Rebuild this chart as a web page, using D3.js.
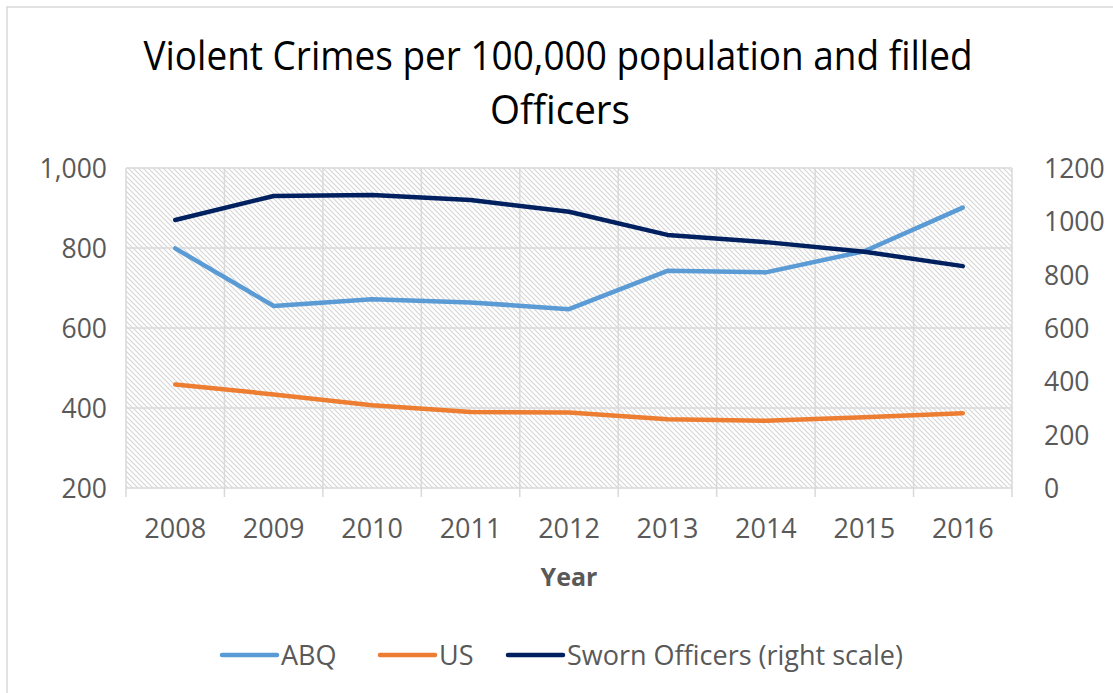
<!DOCTYPE html>
<html>
<head>
<meta charset="utf-8">
<script src="https://cdn.jsdelivr.net/npm/d3@7"></script>
<style>
  body { margin: 0; background: #fff; }
  text { font-family: "Open Sans", "Noto Sans", sans-serif; }
</style>
</head>
<body>
<div id="chart"></div>
<script>
// chart data
const years = ["2008", "2009", "2010", "2011", "2012", "2013", "2014", "2015", "2016"];
const abq = [799, 655, 672, 664, 647, 743, 739, 792, 901];
const us = [459, 434, 407, 390, 389, 372, 368, 377, 387];
const officers = [1005, 1095, 1099, 1080, 1036, 949, 922, 886, 832];
const leftTicks = [200, 400, 600, 800, 1000];
const rightTicks = [0, 200, 400, 600, 800, 1000, 1200];

const width = 1113;
const height = 693;
const margin = {left: 126, right: 101, top: 168, bottom: 205};

const svg = d3.select("#chart")
  .append("svg")
  .attr("width", width)
  .attr("height", height);

// outer chart border
svg.append("rect")
  .attr("x", 7).attr("y", 7)
  .attr("width", width + 20).attr("height", height + 20)
  .attr("fill", "none")
  .attr("stroke", "#d9d9d9")
  .attr("stroke-width", 1.5);

// hatch pattern for plot area
const defs = svg.append("defs");
defs.append("pattern")
  .attr("id", "hatch")
  .attr("patternUnits", "userSpaceOnUse")
  .attr("width", 5).attr("height", 5)
  .append("path")
    .attr("d", "M-1,-1 L6,6 M4,-1 L6,1 M-1,4 L1,6")
    .attr("stroke", "#d4d4d4")
    .attr("stroke-width", 1.1);

// scales
const xScale = d3.scaleBand()
  .domain(years)
  .range([margin.left, width - margin.right]);

const yLeft = d3.scaleLinear()
  .domain([200, 1000])
  .range([height - margin.bottom, margin.top]);

const yRight = d3.scaleLinear()
  .domain([0, 1200])
  .range([height - margin.bottom, margin.top]);

// plot area background
svg.append("rect")
  .attr("x", margin.left)
  .attr("y", margin.top)
  .attr("width", width - margin.left - margin.right)
  .attr("height", height - margin.top - margin.bottom)
  .attr("fill", "url(#hatch)");

// horizontal gridlines
svg.append("g")
  .selectAll("line")
  .data(leftTicks)
  .enter()
  .append("line")
    .attr("x1", margin.left)
    .attr("x2", width - margin.right)
    .attr("y1", d => yLeft(d))
    .attr("y2", d => yLeft(d))
    .attr("stroke", "#d9d9d9")
    .attr("stroke-width", 1.5);

// vertical gridlines at category borders, with tick marks below the axis
const borders = years.map(y => xScale(y)).concat([width - margin.right]);
svg.append("g")
  .selectAll("line")
  .data(borders)
  .enter()
  .append("line")
    .attr("x1", d => d)
    .attr("x2", d => d)
    .attr("y1", margin.top)
    .attr("y2", height - margin.bottom + 9)
    .attr("stroke", "#d9d9d9")
    .attr("stroke-width", 1.5);

// left axis labels
svg.append("g")
  .attr("transform", `translate(${margin.left - 16}, 0)`)
  .call(d3.axisLeft(yLeft).tickValues(leftTicks).tickSize(0).tickFormat(d3.format(",")))
  .call(g => g.select(".domain").remove())
  .selectAll("text")
    .attr("fill", "#595959")
    .attr("font-size", "26.5px")
    .attr("dy", "0.36em");

// right axis labels
svg.append("g")
  .attr("transform", `translate(${width - margin.right + 29}, 0)`)
  .call(d3.axisRight(yRight).tickValues(rightTicks).tickSize(0).tickFormat(d3.format("d")))
  .call(g => g.select(".domain").remove())
  .selectAll("text")
    .attr("fill", "#595959")
    .attr("font-size", "26.5px")
    .attr("dy", "0.36em");

// bottom axis labels
svg.append("g")
  .attr("transform", `translate(0, ${height - margin.bottom + 28})`)
  .call(d3.axisBottom(xScale).tickSize(0))
  .call(g => g.select(".domain").remove())
  .selectAll("text")
    .attr("fill", "#595959")
    .attr("font-size", "27px")
    .attr("dy", "0.71em");

// axis title
svg.append("text")
  .attr("x", (margin.left + width - margin.right) / 2)
  .attr("y", 586)
  .attr("text-anchor", "middle")
  .attr("font-size", "25px")
  .attr("font-weight", "bold")
  .attr("fill", "#595959")
  .text("Year");

// chart title
svg.append("text")
  .attr("x", 558).attr("y", 70)
  .attr("text-anchor", "middle")
  .attr("font-size", "40px")
  .attr("textLength", 829)
  .attr("lengthAdjust", "spacingAndGlyphs")
  .attr("fill", "#000")
  .text("Violent Crimes per 100,000 population and filled");

svg.append("text")
  .attr("x", 560).attr("y", 124)
  .attr("text-anchor", "middle")
  .attr("font-size", "40px")
  .attr("textLength", 140)
  .attr("lengthAdjust", "spacingAndGlyphs")
  .attr("fill", "#000")
  .text("Officers");

// lines
const series = [
  {name: "ABQ", values: abq, scale: yLeft, color: "#5b9bd5"},
  {name: "US", values: us, scale: yLeft, color: "#ed7d31"},
  {name: "Sworn Officers (right scale)", values: officers, scale: yRight, color: "#002060"}
];

const cx = d => xScale(d) + xScale.bandwidth() / 2;

series.forEach(s => {
  const line = d3.line()
    .x((d, i) => cx(years[i]))
    .y(d => s.scale(d));
  svg.append("path")
    .datum(s.values)
    .attr("fill", "none")
    .attr("stroke", s.color)
    .attr("stroke-width", 4.5)
    .attr("stroke-linejoin", "round")
    .attr("stroke-linecap", "round")
    .attr("d", line);
});

// legend
const legendX = [222, 380, 508];
const legend = svg.append("g");
series.forEach((s, i) => {
  legend.append("line")
    .attr("x1", legendX[i]).attr("x2", legendX[i] + 55)
    .attr("y1", 655).attr("y2", 655)
    .attr("stroke", s.color)
    .attr("stroke-width", 4.5)
    .attr("stroke-linecap", "round");
  legend.append("text")
    .attr("x", legendX[i] + 59)
    .attr("y", 665)
    .attr("font-size", "27px")
    .attr("fill", "#595959")
    .text(s.name);
});
</script>
</body>
</html>
